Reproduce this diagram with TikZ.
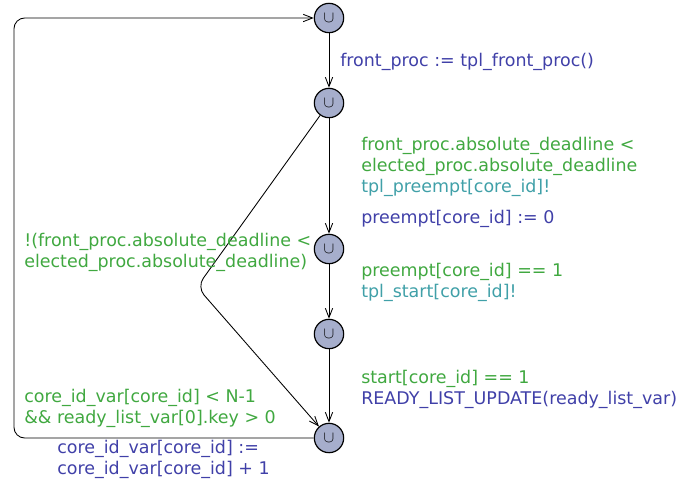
\documentclass[tikz,border=0pt]{standalone}
\usepackage{fontspec}
\setmainfont{DejaVu Sans}
\usetikzlibrary{arrows.meta}
\definecolor{locfill}{RGB}{166,174,204}
\definecolor{guardc}{RGB}{64,168,64}
\definecolor{updatec}{RGB}{64,64,168}
\definecolor{syncc}{RGB}{64,160,168}
\begin{document}
\begin{tikzpicture}[x=0.75pt,y=-0.75pt]
\tikzstyle{every node}+=[inner sep=0pt]
\tikzstyle{loc}=[circle,draw=black,line width=0.9pt,fill=locfill,minimum size=22pt,font=\large]
\tikzstyle{lbl}=[anchor=base west,font=\fontsize{13.1}{15.75}\selectfont]
\tikzstyle{edge}=[draw=black,line width=0.65pt,-{Straight Barb[length=7pt,width=5.5pt]}]
\useasboundingbox (0,0) rectangle (693,482);
\node [loc] (l1) at (329,18) {$\cup$};
\node [loc] (l2) at (329,103) {$\cup$};
\node [loc] (l3) at (329,249) {$\cup$};
\node [loc] (l4) at (329,334) {$\cup$};
\node [loc] (l5) at (329,438) {$\cup$};
\coordinate (bend) at (197,287);
\coordinate (lb) at (14,438);
\coordinate (lt) at (14,18);
\draw [edge] (l1) -- (l2);
\draw [edge] (l2) -- (l3);
\draw [edge] (l3) -- (l4);
\draw [edge] (l4) -- (l5);
\draw [edge,rounded corners=8pt] (l2) -- (bend) -- (l5);
\draw [edge,rounded corners=8pt] (l5) -- (lb) -- (lt) -- (l1);
\node [lbl,text=updatec] (u1) at (340,66) {front\_proc := tpl\_front\_proc()};
\node [lbl,text=guardc] (g2a) at (361,150) {front\_proc.absolute\_deadline <};
\node [lbl,text=guardc] (g2b) at (361,171) {elected\_proc.absolute\_deadline};
\node [lbl,text=syncc] (s2) at (361,192) {tpl\_preempt[core\_id]!};
\node [lbl,text=updatec] (u2) at (361,223) {preempt[core\_id] := 0};
\node [lbl,text=guardc] (g3) at (361,276) {preempt[core\_id] == 1};
\node [lbl,text=syncc] (s3) at (361,297) {tpl\_start[core\_id]!};
\node [lbl,text=guardc] (g4) at (361,383) {start[core\_id] == 1};
\node [lbl,text=updatec] (u4) at (361,404) {READY\_LIST\_UPDATE(ready\_list\_var)};
\node [lbl,text=guardc] (g6a) at (24,246) {!(front\_proc.absolute\_deadline <};
\node [lbl,text=guardc] (g6b) at (24,267) {elected\_proc.absolute\_deadline)};
\node [lbl,text=guardc] (g5a) at (24,402) {core\_id\_var[core\_id] < N-1};
\node [lbl,text=guardc] (g5b) at (24,423) {\&\& ready\_list\_var[0].key > 0};
\node [lbl,text=updatec] (u5a) at (57,453) {core\_id\_var[core\_id] :=};
\node [lbl,text=updatec] (u5b) at (57,474) {core\_id\_var[core\_id] + 1};
\end{tikzpicture}
\end{document}
